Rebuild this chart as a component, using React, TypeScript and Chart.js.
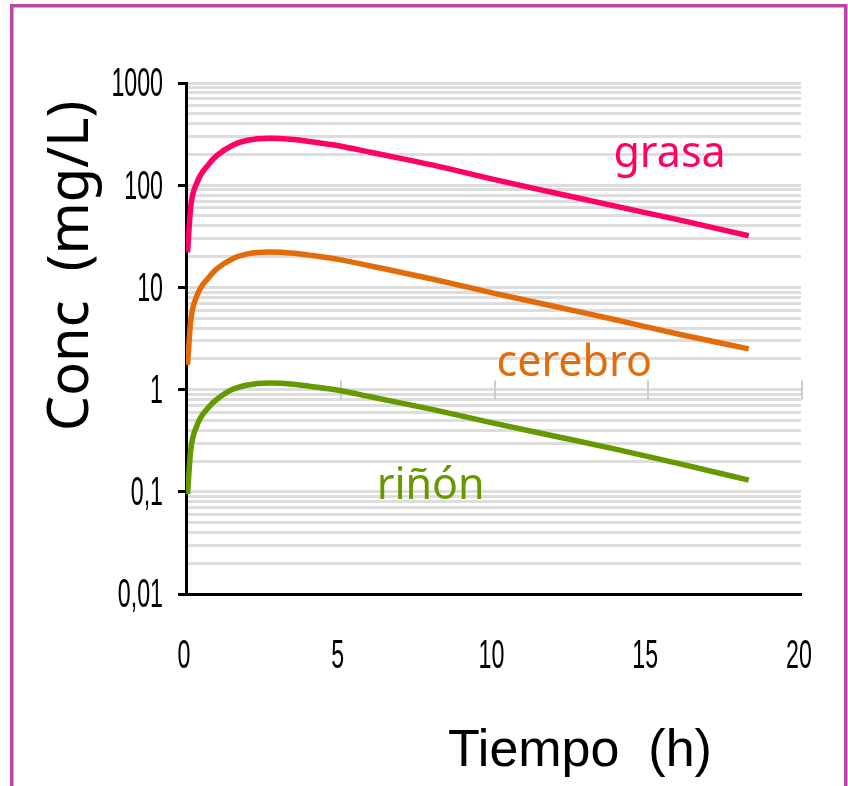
import { useEffect, useRef } from "react";
import { Chart, registerables } from "chart.js";

Chart.register(...registerables);

// Time after dose (h) and concentration (mg/L) in each tissue
const TIME_H = [0.05, 0.15, 0.35, 0.75, 1.0, 1.5, 2.0, 2.7, 3.5, 4.0, 5.0, 6.0, 8.0, 10, 12, 14, 16, 18.3];
const GRASA = [22, 60, 105, 162, 195, 245, 275, 288, 280, 268, 242, 210, 158, 114, 84, 62, 46, 32];
const CEREBRO = [1.75, 4.6, 8.2, 12.6, 15.2, 19, 21.3, 22.2, 21.6, 20.7, 18.7, 16.2, 12.1, 8.8, 6.5, 4.8, 3.5, 2.5];
const RINON = [0.095, 0.25, 0.44, 0.68, 0.8, 1.0, 1.11, 1.16, 1.13, 1.08, 0.98, 0.85, 0.64, 0.47, 0.35, 0.26, 0.19, 0.13];

const SERIES_NAMES = ["grasa", "cerebro", "riñón"];
const SERIES_COLORS = ["#ff0066", "#e36c0a", "#669900"];

// Axis ticks
const Y_DECADES = [0.01, 0.1, 1, 10, 100, 1000];
const Y_LABELS = ["0,01", "0,1", "1", "10", "100", "1000"];
const X_TICKS = [0, 5, 10, 15, 20];
const X_LABELS = ["0", "5", "10", "15", "20"];

const Y_TITLE = "Conc  (mg/L)";
const X_TITLE = "Tiempo  (h)";

// Where each series name sits, in data units (x = h, y = mg/L)
const NAME_ANCHORS = [
  { x: 13.9, y: 150 },
  { x: 10.1, y: 1.36 },
  { x: 6.2, y: 0.085 },
];

const isDecade = (v: number) => Y_DECADES.some((d) => Math.abs(v - d) / d < 1e-6);

// Log-scale grid: 1..9 x each decade
const gridValues = (): number[] => {
  const out: number[] = [];
  for (let i = 0; i < Y_DECADES.length - 1; i++) {
    for (let m = 1; m <= 9; m++) out.push(parseFloat((Y_DECADES[i] * m).toPrecision(6)));
  }
  out.push(Y_DECADES[Y_DECADES.length - 1]);
  return out;
};

const TICK_FONT_SIZE = 40;
const drawCondensed = (ctx: CanvasRenderingContext2D, text: string, x: number, cy: number, align: CanvasTextAlign) => {
  ctx.save();
  ctx.translate(x, cy + TICK_FONT_SIZE * 0.358);
  ctx.scale(0.58, 1);
  ctx.font = `${TICK_FONT_SIZE}px "Liberation Sans", Arial, sans-serif`;
  ctx.fillStyle = "#000";
  ctx.textAlign = align;
  ctx.textBaseline = "alphabetic";
  ctx.fillText(text, 0, 0);
  ctx.restore();
};

const decorPlugin = {
  id: "decor",
  beforeDatasetsDraw(chart: any) {
    const { ctx, scales } = chart;
    const xs = scales.x;
    const ys = scales.y;
    // short grey marks crossing the 1 mg/L line
    const y1 = ys.getPixelForValue(1);
    ctx.save();
    ctx.strokeStyle = "#cccccc";
    ctx.lineWidth = 2;
    X_TICKS.slice(1).forEach((t) => {
      const px = Math.round(xs.getPixelForValue(t)) + 1;
      ctx.beginPath();
      ctx.moveTo(px, y1 - 9);
      ctx.lineTo(px, y1 + 10);
      ctx.stroke();
    });
    ctx.restore();
  },
  afterDraw(chart: any) {
    const { ctx, scales } = chart;
    const xs = scales.x;
    const ys = scales.y;

    // outer frame
    ctx.save();
    ctx.strokeStyle = "#b848a4";
    ctx.lineWidth = 3.5;
    ctx.strokeRect(11.75, 5.75, 834, 820);
    ctx.restore();

    // tick labels
    Y_DECADES.forEach((v, i) => drawCondensed(ctx, Y_LABELS[i], 163, ys.getPixelForValue(v) - 1, "right"));
    X_TICKS.forEach((v, i) => drawCondensed(ctx, X_LABELS[i], xs.getPixelForValue(v) - 2, 654, "center"));

    // axis titles
    ctx.save();
    ctx.fillStyle = "#000";
    ctx.font = '56px "Noto Sans", sans-serif';
    ctx.translate(88, 266);
    ctx.rotate(-Math.PI / 2);
    ctx.textAlign = "center";
    ctx.textBaseline = "alphabetic";
    ctx.fillText(Y_TITLE, 0, 0);
    ctx.restore();

    ctx.save();
    ctx.fillStyle = "#000";
    ctx.font = '52px "Liberation Sans", Arial, sans-serif';
    ctx.textAlign = "left";
    ctx.textBaseline = "alphabetic";
    ctx.fillText(X_TITLE, 448, 766);
    ctx.restore();

    // series names
    ctx.save();
    ctx.font = '43px "Noto Sans", sans-serif';
    ctx.textAlign = "left";
    ctx.textBaseline = "alphabetic";
    SERIES_NAMES.forEach((name, i) => {
      ctx.fillStyle = SERIES_COLORS[i];
      ctx.fillText(name, xs.getPixelForValue(NAME_ANCHORS[i].x), ys.getPixelForValue(NAME_ANCHORS[i].y));
    });
    ctx.restore();
  },
};

export default function App() {
  const canvasRef = useRef<HTMLCanvasElement | null>(null);

  useEffect(() => {
    const canvas = canvasRef.current;
    if (!canvas) return;
    const seriesData = [GRASA, CEREBRO, RINON];
    const chart = new Chart(canvas, {
      type: "scatter",
      data: {
        datasets: seriesData.map((vals, i) => ({
          label: SERIES_NAMES[i],
          data: TIME_H.map((t, j) => ({ x: t, y: vals[j] })),
          showLine: true,
          borderColor: SERIES_COLORS[i],
          backgroundColor: SERIES_COLORS[i],
          borderWidth: 5.5,
          pointRadius: 0,
          cubicInterpolationMode: "monotone" as const,
          borderCapStyle: "butt" as const,
        })),
      },
      options: {
        responsive: false,
        animation: false,
        devicePixelRatio: 1,
        layout: { padding: { left: 178, top: 83, right: 47, bottom: 192 } },
        plugins: { legend: { display: false }, tooltip: { enabled: false } },
        scales: {
          x: {
            type: "linear",
            min: 0,
            max: 20,
            grid: { display: false, drawTicks: false },
            ticks: { display: false },
            border: { display: true, color: "#000", width: 3 },
          },
          y: {
            type: "logarithmic",
            min: 0.01,
            max: 1000,
            afterBuildTicks: (scale: any) => {
              scale.ticks = gridValues().map((value) => ({ value }));
            },
            grid: {
              display: true,
              drawTicks: true,
              tickLength: 8,
              tickWidth: 3,
              lineWidth: 3,
              color: (c: any) => (c.tick && Math.abs(c.tick.value - 0.01) < 1e-9 ? "#000" : "#dddddd"),
              tickColor: (c: any) => (c.tick && isDecade(c.tick.value) ? "#000" : "rgba(0,0,0,0)"),
            },
            ticks: { display: false, autoSkip: false },
            border: { display: true, color: "#000", width: 3 },
          },
        },
      },
      plugins: [decorPlugin],
    });
    return () => chart.destroy();
  }, []);

  return (
    <div style={{ position: "absolute", left: 0, top: 0, width: 848, height: 786, background: "#fff" }}>
      <canvas ref={canvasRef} width={848} height={786} style={{ display: "block" }} />
    </div>
  );
}
